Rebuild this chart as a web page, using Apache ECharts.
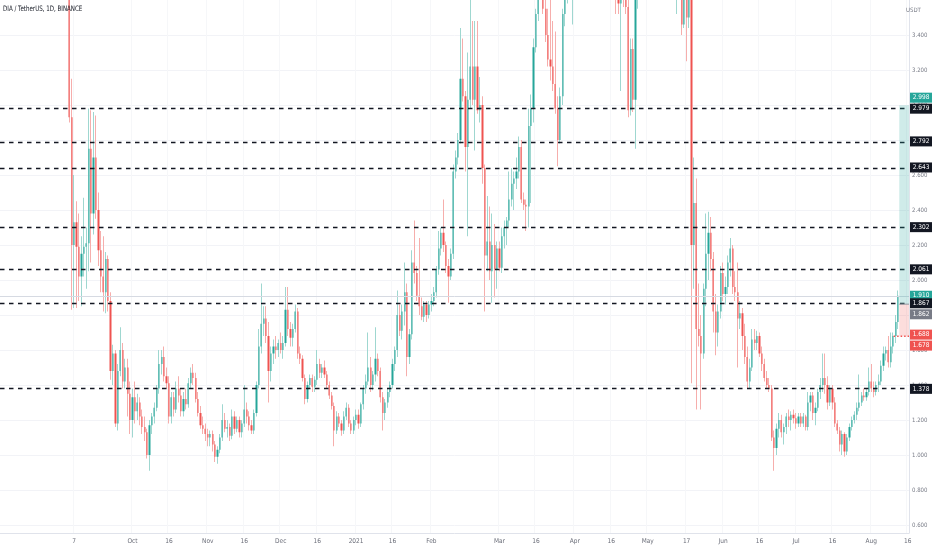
<!DOCTYPE html>
<html><head><meta charset="utf-8">
<script src="https://cdn.jsdelivr.net/npm/echarts@6.0.0/dist/echarts.min.js"></script>
<style>html,body{margin:0;padding:0;background:#fff}#c{width:932px;height:550px}</style>
</head><body><div id="c"></div>
<script>
// ---- DATA ----
const title = 'DIA / TetherUS, 1D, BINANCE';
const currency = 'USDT';
const firstCandle = '2020-09-05';
const axisStart = '2020-08-08';
const axisEnd = '2021-08-16';

const opens = [
// Sep
3.95,2.93,2.20,2.33,2.19,2.02,2.15,2.19,2.21,2.75,2.38,2.70,2.40,2.17,2.02,1.93,2.12,1.88,1.48,1.58,1.18,1.48,1.60,1.42,1.50,1.35,
// Oct
1.20,1.33,1.25,1.30,1.22,1.16,1.13,1.00,1.17,1.22,1.27,1.38,1.52,1.56,1.45,1.41,1.22,1.33,1.26,1.38,1.34,1.25,1.32,1.29,1.41,1.47,1.44,1.32,1.24,1.17,1.15,
// Nov
1.12,1.10,1.12,1.06,0.99,1.03,1.10,1.20,1.15,1.16,1.11,1.22,1.15,1.20,1.13,1.18,1.26,1.22,1.17,1.14,1.24,1.40,1.62,1.75,1.78,1.68,1.48,1.58,1.62,1.60,
// Dec
1.64,1.60,1.64,1.83,1.72,1.67,1.72,1.82,1.58,1.55,1.44,1.32,1.40,1.44,1.39,1.43,1.52,1.47,1.50,1.46,1.40,1.34,1.28,1.14,1.22,1.18,1.14,1.22,1.27,1.18,1.14,
// Jan
1.20,1.23,1.18,1.29,1.38,1.42,1.50,1.40,1.46,1.55,1.48,1.33,1.24,1.30,1.36,1.40,1.52,1.60,1.80,1.71,1.82,1.93,1.56,1.69,2.10,2.04,1.91,1.85,1.79,1.86,1.80,
// Feb
1.86,1.88,1.93,2.06,2.18,2.27,2.20,2.08,2.02,2.15,2.62,2.70,2.80,3.15,3.05,2.76,3.03,3.22,3.03,3.22,2.97,3.00,2.64,2.14,2.22,2.05,2.20,2.06,
// Mar
2.18,2.07,2.25,2.30,2.34,2.46,2.55,2.58,2.62,2.76,2.46,2.43,2.42,2.88,2.98,3.33,3.52,3.70,3.75,3.55,3.40,3.26,3.22,3.12,2.98,2.80,3.05,3.52,3.68,3.80,4.00,
// Apr
4.05,4.30,4.50,4.20,4.40,4.70,4.90,4.35,4.60,4.80,5.20,5.40,5.30,5.60,5.10,5.00,4.60,4.10,3.70,3.58,3.65,3.60,3.56,2.97,3.32,3.03,3.60,3.92,4.10,4.00,
// May
4.30,4.40,4.30,4.70,4.35,4.60,4.50,4.65,4.80,4.60,4.10,4.30,4.00,4.25,4.00,3.46,3.80,3.50,3.80,2.20,2.44,1.72,1.68,1.58,1.95,2.15,2.27,2.12,1.82,1.70,1.82,
// Jun
2.04,1.92,1.96,2.10,2.18,1.96,1.93,1.78,1.81,1.68,1.56,1.42,1.50,1.66,1.64,1.68,1.58,1.52,1.44,1.40,1.38,1.10,1.04,1.15,1.20,1.13,1.16,1.22,1.20,1.23,
// Jul
1.21,1.18,1.22,1.18,1.22,1.16,1.30,1.34,1.24,1.27,1.36,1.40,1.44,1.40,1.30,1.38,1.30,1.18,1.14,1.06,1.12,1.02,1.10,1.16,1.20,1.23,1.27,1.30,1.34,1.33,1.36,
// Aug
1.42,1.38,1.36,1.40,1.42,1.51,1.58,1.60,1.53,1.62,1.68,1.76
];

const highs = [
4.40,3.15,2.60,2.45,2.38,2.25,2.47,2.30,2.98,2.97,2.96,2.94,2.50,2.28,2.25,2.16,2.14,1.93,1.63,1.60,1.52,1.73,1.64,1.55,1.55,1.42,
1.38,1.42,1.35,1.33,1.26,1.22,1.15,1.20,1.24,1.30,1.40,1.60,1.60,1.62,1.50,1.45,1.36,1.36,1.42,1.45,1.38,1.36,1.38,1.44,1.50,1.52,1.47,1.36,1.28,1.22,1.18,
1.15,1.14,1.14,1.08,1.05,1.12,1.29,1.24,1.20,1.18,1.26,1.25,1.22,1.22,1.20,1.40,1.30,1.25,1.20,1.26,1.42,1.72,1.98,1.85,1.85,1.76,1.62,1.66,1.68,1.66,
1.70,1.68,1.96,1.96,1.76,1.75,1.86,1.84,1.62,1.57,1.46,1.42,1.46,1.46,1.45,1.60,1.55,1.52,1.54,1.48,1.42,1.36,1.30,1.25,1.24,1.20,1.25,1.30,1.29,1.20,1.22,
1.26,1.26,1.30,1.40,1.46,1.70,1.56,1.48,1.73,1.58,1.50,1.36,1.32,1.38,1.42,1.55,1.62,1.94,1.86,1.86,2.10,1.98,1.72,2.17,2.34,2.08,2.24,1.90,1.88,1.88,1.88,
1.92,1.96,2.08,2.28,2.30,2.46,2.22,2.12,2.18,2.66,2.74,2.84,3.44,3.38,3.08,3.30,3.70,3.48,3.48,3.48,3.16,3.05,2.66,2.48,2.42,2.38,2.32,2.22,
2.22,2.30,2.34,2.36,2.62,2.64,2.62,2.70,2.82,2.80,2.50,2.46,2.98,3.06,3.38,3.55,3.80,3.95,3.85,3.62,3.55,3.60,3.48,3.42,3.05,3.10,3.55,3.80,3.90,4.10,4.20,
4.40,4.60,4.70,4.45,4.80,5.00,5.05,4.70,4.90,5.30,5.50,5.70,5.80,5.75,5.30,5.10,4.80,4.30,3.95,3.80,3.75,3.66,3.60,3.38,3.38,3.65,4.00,4.20,4.30,4.40,
4.50,4.60,4.80,4.90,4.70,4.80,4.75,4.90,4.95,4.80,4.40,4.50,4.40,4.40,4.05,3.90,3.95,3.90,3.95,2.70,2.58,1.98,1.80,1.98,2.38,2.39,2.36,2.16,1.92,1.86,2.08,
2.10,2.02,2.14,2.24,2.20,2.05,2.10,1.88,1.84,1.75,1.62,1.55,1.72,1.72,1.71,1.70,1.62,1.55,1.48,1.44,1.40,1.14,1.18,1.24,1.23,1.18,1.24,1.26,1.25,1.26,
1.24,1.24,1.24,1.24,1.23,1.36,1.36,1.36,1.30,1.38,1.44,1.58,1.58,1.45,1.40,1.40,1.33,1.20,1.16,1.14,1.13,1.12,1.18,1.22,1.25,1.30,1.46,1.36,1.38,1.38,1.50,
1.52,1.42,1.42,1.46,1.54,1.62,1.62,1.68,1.70,1.70,1.80,1.94
];

const lows = [
2.90,1.83,1.84,1.84,1.88,1.85,2.02,1.95,2.05,2.10,2.26,2.35,2.08,1.93,1.82,1.81,1.82,1.43,1.40,1.16,1.14,1.45,1.38,1.38,1.22,1.12,
1.10,1.18,1.20,1.17,1.12,1.08,0.98,0.91,1.12,1.18,1.25,1.35,1.46,1.42,1.38,1.18,1.18,1.22,1.24,1.30,1.22,1.22,1.26,1.27,1.38,1.40,1.30,1.22,1.15,1.12,1.08,
1.05,1.05,1.02,0.96,0.95,1.01,1.08,1.13,1.10,1.08,1.09,1.12,1.13,1.10,1.10,1.16,1.18,1.14,1.12,1.12,1.22,1.38,1.58,1.68,1.64,1.30,1.42,1.52,1.55,1.56,
1.58,1.55,1.62,1.68,1.62,1.62,1.70,1.55,1.52,1.42,1.29,1.30,1.38,1.36,1.36,1.40,1.44,1.44,1.44,1.38,1.32,1.26,1.05,1.12,1.16,1.11,1.12,1.20,1.16,1.12,1.12,
1.17,1.15,1.16,1.26,1.35,1.40,1.36,1.37,1.42,1.45,1.30,1.14,1.20,1.27,1.33,1.38,1.48,1.56,1.68,1.66,1.74,1.45,1.52,1.66,1.98,1.88,1.80,1.77,1.76,1.76,1.78,
1.82,1.85,1.90,2.03,2.14,2.16,2.04,1.87,2.00,2.12,2.58,2.66,2.78,3.02,2.62,2.25,2.98,3.00,2.74,2.95,2.90,2.55,1.82,2.05,2.00,1.87,1.90,1.95,
2.05,2.04,2.18,2.20,2.30,2.42,2.40,2.52,2.58,2.44,2.40,2.28,2.30,2.44,2.90,3.30,3.48,3.60,3.52,3.36,3.22,3.14,3.08,2.95,2.65,2.78,3.00,3.45,3.58,3.62,3.46,
3.95,4.20,4.10,4.05,4.30,4.55,4.20,4.30,4.50,4.70,5.00,5.10,5.20,5.00,4.80,4.40,4.05,3.52,3.52,3.08,3.56,3.52,2.93,2.94,2.96,2.75,3.55,3.80,3.90,3.95,
4.10,4.20,4.25,4.20,4.30,4.40,4.40,4.55,4.50,4.00,3.90,3.80,3.52,3.90,3.40,3.44,3.25,3.44,1.41,1.95,1.26,1.62,1.26,1.55,1.85,2.00,2.05,1.70,1.57,1.62,1.78,
1.88,1.86,1.92,2.02,1.92,1.88,1.50,1.72,1.60,1.52,1.38,1.38,1.48,1.60,1.60,1.56,1.48,1.42,1.38,1.36,1.08,0.91,1.00,1.10,1.10,1.06,1.12,1.16,1.14,1.18,
1.15,1.16,1.16,1.16,1.14,1.14,1.25,1.20,1.17,1.25,1.32,1.36,1.35,1.26,1.28,1.26,1.16,1.12,1.02,1.00,0.99,1.00,1.08,1.14,1.18,1.20,1.25,1.28,1.31,1.31,1.34,
1.36,1.33,1.34,1.36,1.40,1.48,1.54,1.50,1.50,1.58,1.64,1.72
];

const closes = [
2.93,2.20,2.33,2.19,2.02,2.15,2.19,2.21,2.75,2.38,2.70,2.40,2.17,2.02,1.93,2.12,1.88,1.48,1.58,1.18,1.48,1.60,1.42,1.50,1.35,1.20,
1.33,1.25,1.30,1.22,1.16,1.13,1.00,1.17,1.22,1.27,1.38,1.52,1.56,1.45,1.41,1.22,1.33,1.26,1.38,1.34,1.25,1.32,1.29,1.41,1.47,1.44,1.32,1.24,1.17,1.15,1.12,
1.10,1.12,1.06,0.99,1.03,1.10,1.20,1.15,1.16,1.11,1.22,1.15,1.20,1.13,1.18,1.26,1.22,1.17,1.14,1.24,1.40,1.62,1.75,1.78,1.68,1.48,1.58,1.62,1.60,1.64,
1.60,1.64,1.83,1.72,1.67,1.72,1.82,1.58,1.55,1.44,1.32,1.40,1.44,1.39,1.43,1.52,1.47,1.50,1.46,1.40,1.34,1.28,1.14,1.22,1.18,1.14,1.22,1.27,1.18,1.14,1.20,
1.23,1.18,1.29,1.38,1.42,1.50,1.40,1.46,1.55,1.48,1.33,1.24,1.30,1.36,1.40,1.52,1.60,1.80,1.71,1.82,1.93,1.56,1.69,2.10,2.04,1.91,1.85,1.79,1.86,1.80,1.86,
1.88,1.93,2.06,2.18,2.27,2.20,2.08,2.02,2.15,2.62,2.70,2.80,3.15,3.05,2.76,3.03,3.22,3.03,3.22,2.97,3.00,2.64,2.14,2.22,2.05,2.20,2.06,2.18,
2.07,2.25,2.30,2.34,2.46,2.55,2.58,2.62,2.76,2.46,2.43,2.42,2.88,2.98,3.33,3.52,3.70,3.75,3.55,3.40,3.26,3.22,3.12,2.98,2.80,3.05,3.52,3.68,3.80,4.00,4.05,
4.30,4.50,4.20,4.40,4.70,4.90,4.35,4.60,4.80,5.20,5.40,5.30,5.60,5.10,5.00,4.60,4.10,3.70,3.58,3.65,3.60,3.56,2.97,3.32,3.03,3.60,3.92,4.10,4.00,4.30,
4.40,4.30,4.70,4.35,4.60,4.50,4.65,4.80,4.60,4.10,4.30,4.00,4.25,4.00,3.46,3.80,3.50,3.80,2.20,2.44,1.72,1.68,1.58,1.95,2.15,2.27,2.12,1.82,1.70,1.82,2.04,
1.92,1.96,2.10,2.18,1.96,1.93,1.78,1.81,1.68,1.56,1.42,1.50,1.66,1.64,1.68,1.58,1.52,1.44,1.40,1.38,1.10,1.04,1.15,1.20,1.13,1.16,1.22,1.20,1.23,1.21,
1.18,1.22,1.18,1.22,1.16,1.30,1.34,1.24,1.27,1.36,1.40,1.44,1.40,1.30,1.38,1.30,1.18,1.14,1.06,1.12,1.02,1.10,1.16,1.20,1.23,1.27,1.30,1.34,1.33,1.36,1.42,
1.38,1.36,1.40,1.42,1.51,1.58,1.60,1.53,1.62,1.68,1.76,1.91
];

const levelLines = [2.979, 2.792, 2.643, 2.302, 2.061, 1.867, 1.378];
const currentPrice = 1.910;
const positionTarget = 2.998;
const positionEntry = 1.862;
const positionStop = 1.678;
const extraPrice = 1.688;
const positionStart = '2021-08-13';
const stopLineStart = '2021-08-11';
const yTickValues = [0.6, 0.8, 1.0, 1.2, 1.4, 1.6, 1.8, 2.0, 2.2, 2.4, 2.6, 2.8, 3.0, 3.2, 3.4];
const xTickLabels = {
  '2020-09-07':'7','2020-10-01':'Oct','2020-10-16':'16','2020-11-01':'Nov','2020-11-16':'16',
  '2020-12-01':'Dec','2020-12-16':'16','2021-01-01':'2021','2021-01-16':'16','2021-02-01':'Feb',
  '2021-03-01':'Mar','2021-03-16':'16','2021-04-01':'Apr','2021-04-16':'16','2021-05-01':'May',
  '2021-05-17':'17','2021-06-01':'Jun','2021-06-16':'16','2021-07-01':'Jul','2021-07-16':'16',
  '2021-08-01':'Aug','2021-08-16':'16'
};

// ---- BUILD ----
const FONT = '"Liberation Sans Narrow", "Arial Narrow", "DejaVu Sans Condensed", sans-serif';
const UP = '#26a69a', DOWN = '#ef5350', UPW = '#9fd7d0', DOWNW = '#f6aeac';
const DAY = 86400000;
const iso = t => new Date(t).toISOString().slice(0, 10);
const categories = [];
for (let t = Date.parse(axisStart + 'T00:00:00Z'); t <= Date.parse(axisEnd + 'T00:00:00Z'); t += DAY) categories.push(iso(t));
const offset = categories.indexOf(firstCandle);
const wickData = categories.map(() => '-');
const bodyData = categories.map(() => '-');
for (let i = 0; i < closes.length; i++) {
  const o = opens[i], c = closes[i];
  wickData[offset + i] = [o, c, lows[i], highs[i]];
  bodyData[offset + i] = [o, c, Math.min(o, c), Math.max(o, c)];
}
const isTick = (i, v) => Object.prototype.hasOwnProperty.call(xTickLabels, v);

const chart = echarts.init(document.getElementById('c'));
chart.setOption({
  animation: false,
  backgroundColor: '#ffffff',
  grid: { left: 0, right: 23, top: 0, bottom: 17, containLabel: false },
  xAxis: {
    type: 'category', data: categories, boundaryGap: true,
    axisLine: { show: true, lineStyle: { color: '#e0e3eb', width: 1 } },
    axisTick: { show: false },
    axisLabel: { interval: isTick, formatter: v => xTickLabels[v] || '', color: '#6a6d78', fontSize: 6.5, fontFamily: FONT, margin: 5 },
    splitLine: { show: true, interval: isTick, lineStyle: { color: '#f6f7f9', width: 1 } }
  },
  yAxis: {
    type: 'value', position: 'right', min: 0.5543, max: 3.6,
    axisLine: { show: true, lineStyle: { color: '#e0e3eb', width: 1 } },
    axisTick: { show: false, customValues: yTickValues },
    axisLabel: { customValues: yTickValues, formatter: v => v.toFixed(3), color: '#787b86', fontSize: 6, fontFamily: FONT, margin: 3 },
    splitLine: { show: true, customValues: yTickValues, lineStyle: { color: '#f2f3f7', width: 1 } }
  },
  series: [
    {
      type: 'candlestick', name: 'wick', data: wickData, barWidth: 1, clip: true, silent: true,
      itemStyle: { color: UPW, color0: DOWNW, borderColor: UPW, borderColor0: DOWNW, borderWidth: 1 },
      markLine: {
        silent: true, symbol: ['none', 'none'], label: { show: false }, animation: false,
        data: [{ yAxis: currentPrice, lineStyle: { type: 'solid', color: '#d6dae2', width: 1 } }]
          .concat(levelLines.map(v => ({ yAxis: v, lineStyle: { type: [4.5, 4.5], color: '#131722', width: 1.4 } })))
      }
    },
    {
      type: 'candlestick', name: 'body', data: bodyData, barWidth: 1.7, clip: true, silent: true,
      itemStyle: { color: UP, color0: DOWN, borderColor: UP, borderColor0: DOWN, borderWidth: 0 }
    }
  ]
});

// ---- OVERLAYS (positions from the library's scales) ----
const yp = v => chart.convertToPixel({ yAxisIndex: 0 }, v);
const xp = d => chart.convertToPixel({ xAxisIndex: 0 }, d);
const band = xp(categories[1]) - xp(categories[0]);
const plotRight = xp(categories[categories.length - 1]) + band / 2;
const boxL = xp(positionStart) - band / 2;

const labels = [
  { v: positionTarget, color: UP, push: true },
  { v: currentPrice, color: UP },
  { v: positionEntry, color: '#787b86', push: true },
  { v: extraPrice, color: DOWN },
  { v: positionStop, color: DOWN, push: true }
].concat(levelLines.map(v => ({ v, color: '#131722' })));
labels.forEach(l => l.y = yp(l.v));
labels.filter(l => l.push).forEach(l => {
  const near = labels.filter(o => !o.push && Math.abs(o.y - l.y) < 11)
    .sort((a, b) => Math.abs(a.y - l.y) - Math.abs(b.y - l.y))[0];
  if (near) l.y = near.v < l.v ? near.y - 11 : near.y + 11;
});

const g = [];
g.push({ type: 'rect', z: 50, shape: { x: boxL, y: yp(positionTarget), width: plotRight - boxL, height: yp(positionEntry) - yp(positionTarget) }, style: { fill: 'rgba(38,166,154,0.22)' } });
g.push({ type: 'rect', z: 50, shape: { x: boxL, y: yp(positionEntry), width: plotRight - boxL, height: yp(positionStop) - yp(positionEntry) }, style: { fill: 'rgba(239,83,80,0.2)' } });
g.push({ type: 'line', z: 51, shape: { x1: boxL, y1: yp(positionEntry), x2: plotRight, y2: yp(positionEntry) }, style: { stroke: '#9598a1', lineWidth: 1 } });
g.push({ type: 'line', z: 51, shape: { x1: xp(stopLineStart) - 2, y1: yp(positionStop), x2: plotRight, y2: yp(positionStop) }, style: { stroke: DOWN, lineWidth: 1.5, lineDash: [1.5, 2] } });
labels.forEach(l => {
  g.push({ type: 'rect', z: 60, shape: { x: plotRight + 1, y: l.y - 5, width: 22, height: 10 }, style: { fill: l.color } });
  g.push({ type: 'text', z: 61, style: { x: plotRight + 12, y: l.y, text: l.v.toFixed(3), fill: '#ffffff', fontSize: 6.5, fontFamily: FONT, align: 'center', verticalAlign: 'middle', textAlign: 'center', textVerticalAlign: 'middle' } });
});
g.push({ type: 'text', z: 70, x: 3, y: 9, scaleX: 0.82, style: { x: 0, y: 0, text: title, fill: '#131722', fontSize: 7.5, fontFamily: FONT, align: 'left', verticalAlign: 'middle', textAlign: 'left', textVerticalAlign: 'middle' } });
g.push({ type: 'text', z: 70, style: { x: plotRight - 3, y: 10, text: currency, fill: '#787b86', fontSize: 6, fontFamily: FONT, align: 'left', verticalAlign: 'middle', textAlign: 'left', textVerticalAlign: 'middle' } });
chart.setOption({ graphic: g });
</script>
</body></html>
